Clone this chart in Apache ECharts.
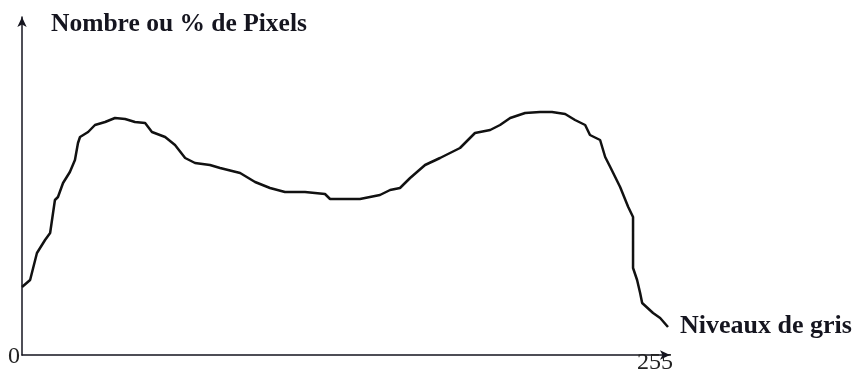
<!DOCTYPE html>
<html>
<head>
<meta charset="utf-8">
<script src="https://cdn.jsdelivr.net/npm/echarts@6/dist/echarts.min.js"></script>
<style>
html,body{margin:0;padding:0;background:#fff;}
#chart{width:855px;height:369px;}
</style>
</head>
<body>
<div id="chart"></div>
<script>
// Data (grey level 0..255, relative pixel count)
const greyLevels = [0, 3.2, 5.9, 9.1, 11.1, 13.0, 14.2, 16.2, 18.9, 20.9, 22.1, 22.9, 26.1, 28.8, 32.8, 36.7, 40.7, 44.6, 48.6, 51.3, 56.5, 60.4, 64.4, 68.3, 74.2, 78.2, 86.1, 92.0, 97.9, 103.8, 111.7, 119.6, 121.6, 133.4, 141.3, 145.3, 149.2, 153.2, 159.1, 165.0, 172.9, 178.8, 184.8, 188.7, 192.7, 198.6, 204.5, 209.2, 214.4, 218.3, 222.3, 224.2, 228.2, 230.2, 232.2, 236.1, 239.3, 241.2, 241.2, 242.8, 244.0, 244.8, 249.1, 251.9, 255];
const pixelCounts = [68, 75, 102, 115, 122, 155, 158, 172, 183, 195, 212, 218, 223, 230, 233, 237, 236, 233, 232, 223, 218, 210, 197, 192, 190, 187, 182, 173, 167, 163, 163, 161, 156, 156, 160, 165, 167, 177, 190, 197, 207, 222, 225, 230, 237, 242, 243, 243, 241, 235, 230, 220, 215, 198, 188, 168, 148, 138, 87, 75, 62, 52, 42, 37, 28];
const tickValues = [0, 255];
const tickLabels = ['0', '255'];
const yAxisTitle = 'Nombre ou % de Pixels';
const xAxisTitle = 'Niveaux de gris';

const chart = echarts.init(document.getElementById('chart'), null, {renderer: 'canvas'});
const serif = '"Liberation Serif", "Times New Roman", serif';
const ink = '#15151f';

chart.setOption({
  animation: false,
  backgroundColor: '#fff',
  grid: {left: 22, right: 187, top: 17, bottom: 14, containLabel: false, outerBoundsMode: 'none'},
  xAxis: {
    type: 'value', min: 0, max: 255,
    axisLine: {show: true, lineStyle: {color: ink, width: 1.5}, symbol: ['none', 'arrow'], symbolSize: [7, 10], symbolOffset: [0, 2]},
    axisTick: {show: false},
    splitLine: {show: false},
    axisLabel: {
      show: true,
      customValues: tickValues,
      margin: -10,
      fontFamily: serif, fontSize: 24, color: '#222',
      formatter: function (v) {
        const i = tickValues.indexOf(v);
        return i === 0 ? '{l|' + tickLabels[i] + '}' : '{r|' + tickLabels[i] + '}';
      },
      rich: {
        l: {fontFamily: serif, fontSize: 24, color: '#222', padding: [0, 16, 0, 0]},
        r: {fontFamily: serif, fontSize: 24, color: '#222', padding: [6, 26, 0, 0]}
      }
    }
  },
  yAxis: {
    type: 'value', min: 0, max: 338,
    axisLine: {show: true, lineStyle: {color: ink, width: 1.5}, symbol: ['none', 'arrow'], symbolSize: [7, 10]},
    axisTick: {show: false},
    axisLabel: {show: false},
    splitLine: {show: false}
  },
  graphic: [
    {type: 'text', left: 51, top: 11, style: {text: yAxisTitle, font: 'bold 25.5px ' + serif, fill: ink}},
    {type: 'text', left: 680, top: 313, style: {text: xAxisTitle, font: 'bold 26px ' + serif, fill: ink}}
  ],
  series: [{
    type: 'line',
    data: greyLevels.map((g, i) => [g, pixelCounts[i]]),
    showSymbol: false,
    lineStyle: {color: '#111', width: 2.5},
    clip: false
  }]
});
</script>
</body>
</html>
